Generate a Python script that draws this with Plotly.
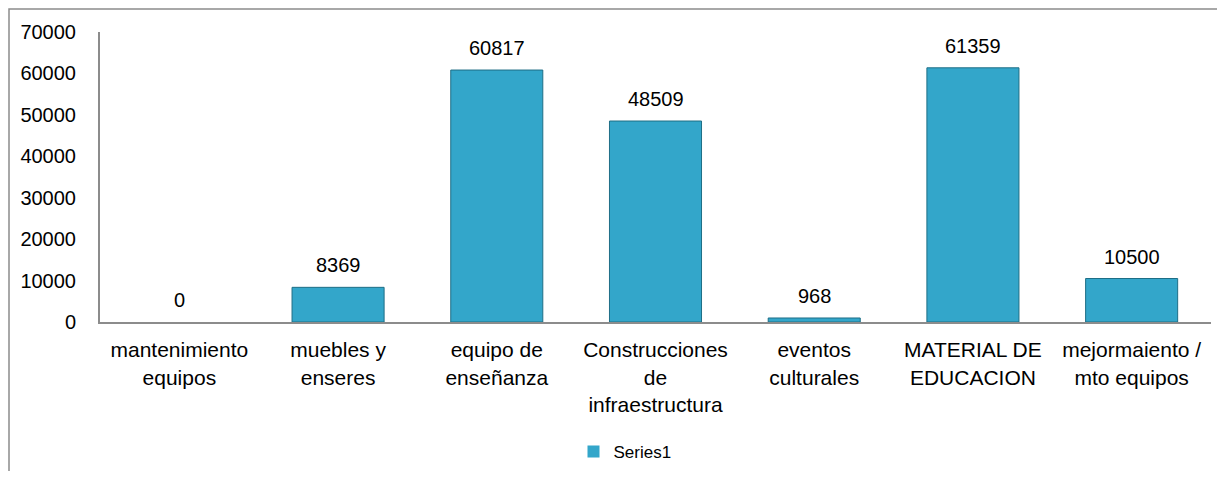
import plotly.graph_objects as go

categories = [
    "mantenimiento<br>equipos",
    "muebles y<br>enseres",
    "equipo de<br>enseñanza",
    "Construcciones<br>de<br>infraestructura",
    "eventos<br>culturales",
    "MATERIAL DE<br>EDUCACION",
    "mejormaiento /<br>mto equipos",
]
values = [0, 8369, 60817, 48509, 968, 61359, 10500]
y_ticks = [0, 10000, 20000, 30000, 40000, 50000, 60000, 70000]
y_tick_labels = [str(v) for v in y_ticks]
series_name = "Series1"

OFF = 8  # page body margin
W, H = 1225 - 2 * OFF, 479 - 2 * OFF
L, T = 100 - OFF, 32 - OFF
R = W - (1211 - OFF)
B = H - (322 - OFF)
pw, ph = W - L - R, H - T - B

FAM = "Liberation Sans, Arial, sans-serif"
num_font = dict(family=FAM, size=20, color="#000000")
cat_font = dict(family=FAM, size=21, color="#000000")

fig = go.Figure()
fig.add_trace(go.Bar(
    x=categories, y=values, name=series_name,
    marker=dict(color="#33A6CA",
                line=dict(color="#1E6E86", width=[0 if v == 0 else 1 for v in values])),
    cliponaxis=False,
))

for c, v in zip(categories, values):
    fig.add_annotation(x=c, y=v, text=str(v), showarrow=False, yanchor="bottom",
                       yshift=9, font=num_font)

legend_center_px = 625 - OFF
fig.update_layout(
    width=W, height=H,
    margin=dict(l=L, r=R, t=T, b=B, autoexpand=False),
    paper_bgcolor="white", plot_bgcolor="white",
    font=num_font,
    bargap=0.42,
    showlegend=True,
    legend=dict(orientation="h", x=(legend_center_px - L) / pw, xanchor="center",
                y=-(452 - 322) / ph, yanchor="middle",
                font=dict(family=FAM, size=17),
                itemwidth=30),
    xaxis=dict(showline=True, linecolor="#8C8C8C", linewidth=2, showgrid=False,
               tickfont=cat_font, ticks="", automargin=False, ticklabelstandoff=8),
    yaxis=dict(range=[0, 70000], tickvals=y_ticks, ticktext=y_tick_labels,
               showline=True, linecolor="#8C8C8C",
               linewidth=2, showgrid=False, zeroline=False, tickfont=num_font,
               ticklabelstandoff=18, automargin=False),
    shapes=[dict(type="rect", xref="paper", yref="paper",
                 x0=(1 - L) / pw, x1=(W + 10 - L) / pw,
                 y0=-(H + 10 - T - ph) / ph, y1=1 + (T - 1) / ph,
                 line=dict(color="#8C8C8C", width=1.5), fillcolor="rgba(0,0,0,0)",
                 layer="below")],
)

fig.write_html("out.html")
